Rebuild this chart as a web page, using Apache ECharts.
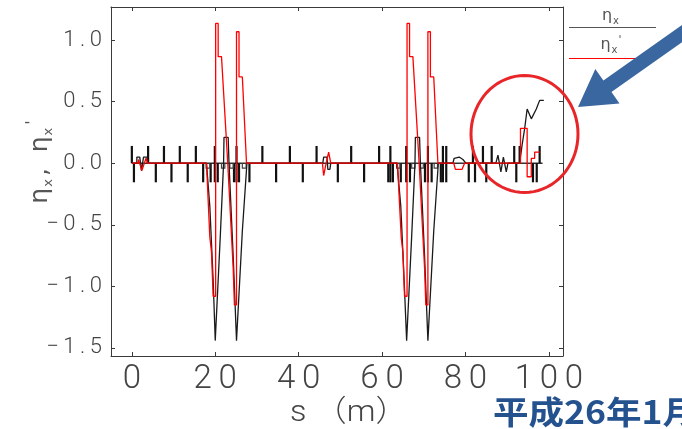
<!DOCTYPE html>
<html><head><meta charset="utf-8">
<script src="https://cdn.jsdelivr.net/npm/echarts@6/dist/echarts.min.js"></script>
<style>html,body{margin:0;padding:0;background:#fff}#c{width:682px;height:429px}</style>
</head><body><div id="c"></div>
<script>
// ---- data ----
const xTicks = [0, 20, 40, 60, 80, 100];
const yTicks = [-1.5, -1.0, -0.5, 0.0, 0.5, 1.0];

// eta_x (black)  [s, value]
const eta = [
  [0,0],[1.2,0],[1.2,0.05],[1.9,0.05],[2.3,-0.06],[2.8,0.05],[3.7,0.05],[3.7,0],
  [17.9,0],[18.7,-0.35],[19.5,-0.95],[20.0,-1.44],[20.2,-1.44],[21.2,-0.6],[22.0,0],[22.1,0.21],[23.1,0.21],[23.3,0],
  [24.3,-0.75],[25.1,-1.44],[25.3,-1.44],[26.5,-0.55],[27.6,0],
  [45.8,0],[46.0,0.05],[46.8,0.05],[47.0,-0.05],[47.5,-0.05],[47.7,0],
  [63.6,0],[64.5,-0.35],[65.3,-0.95],[65.9,-1.44],[66.1,-1.44],[67.1,-0.6],[67.9,0],[68.0,0.21],[69.0,0.21],[69.2,0],
  [70.2,-0.75],[71.0,-1.44],[71.2,-1.44],[72.4,-0.55],[73.5,0],
  [77.0,0],[77.3,0.04],[78.5,0.05],[79.4,0.03],[80.1,0],
  [87.3,0],[87.8,0.065],[88.5,-0.07],[89.1,0.05],[89.8,-0.07],[90.2,0],
  [93.0,0],[93.6,0.15],[94.2,0.28],[94.8,0.44],[95.8,0.36],[97.0,0.44],[97.8,0.51],[98.8,0.51]
];

// eta_x' (red)  [s, value]
const etaPrime = [
  [0,0],[1.5,0],[1.6,0.03],[2.4,-0.06],[3.4,0.04],[3.8,0],
  [17.9,0],[18.7,-0.6],[19.1,-0.72],[19.5,-0.72],[19.5,-1.08],[20.1,-1.08],[20.1,1.135],[20.7,1.135],[20.7,0.865],[21.5,0.865],[23.0,0],
  [23.1,0],[24.3,-0.85],[24.6,-1.15],[25.1,-1.15],[25.1,1.067],[25.7,1.067],[25.7,0.70],[26.5,0.70],[27.5,0],
  [45.7,0],[46.0,-0.1],[46.6,0],[47.2,0.09],[47.7,0],
  [63.7,0],[64.6,-0.6],[65.0,-0.72],[65.4,-0.72],[65.4,-1.08],[66.0,-1.08],[66.0,1.135],[66.6,1.135],[66.6,0.865],[67.4,0.865],[68.9,0],
  [69.0,0],[70.2,-0.85],[70.5,-1.15],[71.0,-1.15],[71.0,1.067],[71.6,1.067],[71.6,0.70],[72.4,0.70],[73.4,0],
  [77.2,0],[77.6,-0.05],[79.2,-0.05],[79.8,0],
  [93.2,0],[93.2,0.283],[94.8,0.283],[94.8,-0.11],[95.8,-0.11],[95.8,0.04],[96.6,0.04],[96.6,0.09],[97.8,0.09]
];

const baseline = [[0,0],[98.5,0]];
const upBars = [0.0,3.9,7.7,11.5,15.35,19.9,25.1,31.3,37.9,44.3,52.6,59.3,62.0,65.8,71.0,74.6,75.4,81.8,84.2,86.3,91.7,93.0,97.8];
const downBars = [0.5,5.75,9.5,13.4,17.1,18.9,19.9,20.6,24.5,25.1,25.7,28.2,34.6,41.0,49.4,55.7,61.5,62.0,62.6,64.5,65.8,66.7,70.3,71.0,71.9,74.1,74.6,75.4,80.8,82.3,85.0,92.2,96.2,97.1];
const boxes = [[17.8,18.7],[21.5,22.3],[23.5,24.3],[26.5,27.4],[63.5,64.3],[67.1,67.9],[69.1,69.9],[72.5,73.3]];

const legendLabels = ['{e|η}{s|x}', "{e|η}{s|x}{p|'}"];
const xName = 's （m）';
const yName = "{e|η}{s|x}{e|,  η}{s|x}{p|'}";
const dateText = '平成26年1月';

// ---- chart ----
const FONT = "Roboto, 'DejaVu Sans', 'Noto Sans CJK JP', sans-serif";
const chart = echarts.init(document.getElementById('c'), null, {renderer: 'canvas'});

const UP = 0.14, DOWN = -0.155, BOXD = -0.04;
const barData = upBars.map(s => [s, 1]).concat(downBars.map(s => [s, -1]));
const TS = '\u2009';
const spaced = str => str.split('').join(TS);

function axisCommon(extra) {
  return Object.assign({
    type: 'value',
    axisLine: {show: true, onZero: false, lineStyle: {color: '#3a3a3a', width: 1}},
    splitLine: {show: false},
  }, extra);
}

// ellipse outline points (annotation, not data)
const ell = [];
for (let i = 0; i < 72; i++) {
  const t = i / 72 * Math.PI * 2;
  ell.push([524.5 + 53.5 * Math.cos(t), 134 + 58.5 * Math.sin(t)]);
}
// arrow polygon
const T = [578, 107], TL = [700, 21];
const L = Math.hypot(TL[0]-T[0], TL[1]-T[1]);
const u = [(T[0]-TL[0])/L, (T[1]-TL[1])/L], n = [-u[1], u[0]];
const hl = 36, hw = 21, sw = 7;
const B = [T[0]-hl*u[0], T[1]-hl*u[1]];
const P = (p, k) => [p[0]+k*n[0], p[1]+k*n[1]];
const arrowPts = [T, P(B, hw), P(B, sw), P(TL, sw), P(TL, -sw), P(B, -sw), P(B, -hw)];

const GF = "'DejaVu Sans', sans-serif";
const NC = '#555';
const nameRich = {
  e: {fontFamily: GF, fontSize: 25, lineHeight: 30, fill: NC},
  s: {fontFamily: GF, fontSize: 13, lineHeight: 30, verticalAlign: 'bottom', fill: NC, padding: [0, 3, 0, 1]},
  p: {fontFamily: GF, fontSize: 16, lineHeight: 30, verticalAlign: 'top', fill: NC}
};
const legRich = {
  e: {fontFamily: GF, fontSize: 16, lineHeight: 20, fill: NC},
  s: {fontFamily: GF, fontSize: 10, lineHeight: 20, verticalAlign: 'bottom', fill: NC, padding: [0, 1, 0, 1]},
  p: {fontFamily: GF, fontSize: 11, lineHeight: 20, verticalAlign: 'top', fill: NC}
};

const option = {
  animation: false,
  backgroundColor: '#fff',
  grid: {left: 111, right: 119, top: 7, bottom: 73},
  xAxis: [
    axisCommon({min: -5, max: 103.4, position: 'bottom',
      axisTick: {show: true, inside: true, length: 4, customValues: xTicks, lineStyle: {color: '#3a3a3a'}},
      axisLabel: {show: true, customValues: xTicks, fontFamily: FONT, fontWeight: 300, fontSize: 33, color: '#444', margin: 7,
        formatter: v => spaced(String(v))}}),
    axisCommon({min: -5, max: 103.4, position: 'top',
      axisTick: {show: true, inside: true, length: 4, customValues: xTicks, lineStyle: {color: '#3a3a3a'}},
      axisLabel: {show: false}})
  ],
  yAxis: [
    axisCommon({min: -1.565, max: 1.268, position: 'left',
      axisTick: {show: true, inside: true, length: 4, customValues: yTicks, lineStyle: {color: '#3a3a3a'}},
      axisLabel: {show: true, customValues: yTicks, fontFamily: FONT, fontWeight: 300, fontSize: 22, color: '#444', margin: 9,
        formatter: v => spaced((v < 0 ? '\u2212' : '') + Math.abs(v).toFixed(1))}}),
    axisCommon({min: -1.565, max: 1.268, position: 'right',
      axisTick: {show: true, inside: true, length: 4, customValues: yTicks, lineStyle: {color: '#3a3a3a'}},
      axisLabel: {show: false}})
  ],
  series: [
    {type: 'line', data: baseline, symbol: 'none', lineStyle: {color: '#333', width: 1.5}, z: 2},
    {type: 'custom', data: barData, encode: {x: 0, y: 1}, z: 3,
      renderItem: (params, api) => {
        const s = api.value(0), d = api.value(1);
        const p0 = api.coord([s, 0]), p1 = api.coord([s, d > 0 ? UP : DOWN]);
        return {type: 'line', shape: {x1: p0[0], y1: p0[1], x2: p1[0], y2: p1[1]}, style: {stroke: '#111', lineWidth: 2.2}};
      }},
    {type: 'custom', data: boxes, encode: {x: [0, 1]}, z: 3,
      renderItem: (params, api) => {
        const a = api.value(0), b = api.value(1);
        const pts = [api.coord([a, 0]), api.coord([a, BOXD]), api.coord([b, BOXD]), api.coord([b, 0])];
        return {type: 'polyline', shape: {points: pts}, style: {stroke: '#444', lineWidth: 1.2, fill: null}};
      }},
    {type: 'line', data: eta, symbol: 'none', lineStyle: {color: '#1a1a1a', width: 1.3}, z: 4},
    {type: 'line', data: etaPrime, symbol: 'none', lineStyle: {color: '#ff0000', width: 1.3}, z: 5}
  ],
  graphic: [
    {type: 'text', x: 40, y: 162, rotation: Math.PI / 2,
      style: {text: yName, rich: nameRich, fill: NC, align: 'center', verticalAlign: 'middle'}},
    {type: 'text', x: 290, y: 413, scaleX: 1.08,
      style: {text: xName, fontFamily: FONT, fontWeight: 300, fontSize: 30, fill: '#444', align: 'left', verticalAlign: 'middle'}},
    {type: 'text', x: 611, y: 16,
      style: {text: legendLabels[0], rich: legRich, fill: NC, align: 'center', verticalAlign: 'middle'}},
    {type: 'line', shape: {x1: 569, y1: 27.5, x2: 656, y2: 27.5}, style: {stroke: '#555', lineWidth: 1.2}},
    {type: 'text', x: 611, y: 45,
      style: {text: legendLabels[1], rich: legRich, fill: NC, align: 'center', verticalAlign: 'middle'}},
    {type: 'line', shape: {x1: 569, y1: 58.5, x2: 656, y2: 58.5}, style: {stroke: '#ff0000', lineWidth: 1.2}},
    {type: 'polygon', shape: {points: ell}, style: {fill: null, stroke: '#e8262a', lineWidth: 3}, z: 100},
    {type: 'polygon', shape: {points: arrowPts}, style: {fill: '#3b67a0', stroke: null}, z: 101},
    {type: 'text', x: 493, y: 412, scaleX: 1.11,
      style: {text: dateText, fontFamily: "'Noto Sans CJK JP', sans-serif", fontWeight: 'bold', fontSize: 32, fill: '#24528f', align: 'left', verticalAlign: 'middle'}}
  ]
};
chart.setOption(option);
</script>
</body></html>
